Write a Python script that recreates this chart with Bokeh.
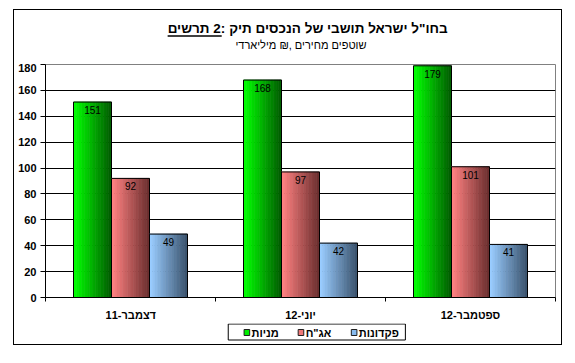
from bokeh.plotting import figure
from bokeh.layouts import column
from bokeh.models import Range1d, FixedTicker
from bokeh.embed import file_html
from bokeh.resources import INLINE
from bokeh.core.properties import value

# ---------------- data ----------------
categories = ["דצמבר-11", "יוני-12", "ספטמבר-12"]
series_names = ["מניות", 'אג"ח', "פקדונות"]
stocks = [151, 168, 179]
bonds = [92, 97, 101]
deposits = [49, 42, 41]
y_ticks = [0, 20, 40, 60, 80, 100, 120, 140, 160, 180]

title_lead = "תרשים 2:"
title_rest = 'תיק הנכסים של תושבי ישראל בחו"ל'
subtitle = "מיליארדי ₪, מחירים שוטפים"

# ---------------- styles ----------------
FONT = "Liberation Sans"
series_colors = [("#00ff00", "#006000"), ("#ff8080", "#6e3030"), ("#99ccff", "#3c5570")]
legend_colors = ["#00ee00", "#ee7777", "#88bbee"]
LRM = "\u200e"
W = 547


def ltr_words(s):
    return (LRM + " ").join(s.split(" "))


def mix(c0, c1, t):
    a = [int(c0[i:i + 2], 16) for i in (1, 3, 5)]
    b = [int(c1[i:i + 2], 16) for i in (1, 3, 5)]
    return "#%02x%02x%02x" % tuple(round(a[k] + (b[k] - a[k]) * t) for k in range(3))


def blank_panel(h):
    f = figure(width=W, height=h, x_range=Range1d(0, W), y_range=Range1d(0, h),
               output_backend="svg", toolbar_location=None,
               x_axis_location=None, y_axis_location=None, min_border=0,
               background_fill_color="white", border_fill_color="white")
    f.outline_line_color = None
    f.grid.visible = False
    return f


# ---------------- title panel ----------------
TH = 53
top = blank_panel(TH)
top.text(x=[131], y=[35], text=[ltr_words(title_lead)], text_align="left",
         text_baseline="middle", text_font=value(FONT), text_font_style="bold",
         text_font_size="13.5px", text_color="black")
top.text(x=[197], y=[35], text=[ltr_words(title_rest)], text_align="left",
         text_baseline="middle", text_font=value(FONT), text_font_style="bold",
         text_font_size="13.5px", text_color="black")
top.segment(x0=[131], y0=[27.5], x1=[189], y1=[27.5], line_color="black", line_width=1.6)
top.text(x=[274], y=[19], text=[ltr_words(subtitle)], text_align="center",
         text_baseline="middle", text_font=value(FONT), text_font_style="normal",
         text_font_size="11px", text_color="black")

# ---------------- main chart ----------------
p = figure(width=W, height=260,
           x_range=Range1d(0, len(categories)), y_range=Range1d(0, 180),
           output_backend="svg", toolbar_location=None,
           min_border_left=31, min_border_right=6, min_border_top=1, min_border_bottom=26,
           background_fill_color="white", border_fill_color="white")
p.outline_line_color = "#808080"
p.outline_line_width = 1

p.xgrid.visible = False
p.ygrid.ticker = FixedTicker(ticks=y_ticks[1:-1])
p.ygrid.grid_line_color = "black"
p.ygrid.grid_line_width = 1

yax = p.yaxis[0]
yax.ticker = FixedTicker(ticks=y_ticks)
yax.major_tick_out = 5
yax.major_tick_in = 0
yax.minor_tick_out = 0
yax.minor_tick_in = 0
yax.major_label_standoff = 4
yax.major_label_text_font = FONT
yax.major_label_text_font_style = "bold"
yax.major_label_text_font_size = "11px"
yax.major_label_text_color = "black"
yax.axis_line_color = "black"
yax.major_tick_line_color = "black"

centers = [i + 0.5 for i in range(len(categories))]
bounds = [float(i) for i in range(len(categories) + 1)]
xax = p.xaxis[0]
xax.ticker = FixedTicker(ticks=centers, minor_ticks=bounds)
xax.major_label_overrides = {c: lab for c, lab in zip(centers, categories)}
xax.major_tick_out = 0
xax.major_tick_in = 0
xax.minor_tick_out = 4
xax.minor_tick_in = 0
xax.minor_tick_line_color = "black"
xax.major_label_standoff = 7
xax.major_label_text_font = FONT
xax.major_label_text_font_style = "bold"
xax.major_label_text_font_size = "11px"
xax.major_label_text_color = "black"
xax.axis_line_color = "black"

bar_w = 0.2235
offsets = [-bar_w, 0.0, bar_w]
N = 14
series = [stocks, bonds, deposits]
for vals, (c0, c1), off in zip(series, series_colors, offsets):
    xs_c = [c + off for c in centers]
    for j in range(N):
        t = j / (N - 1)
        col = mix(c0, c1, t)
        xs = [x - bar_w / 2 + (j + 0.5) * bar_w / N for x in xs_c]
        p.vbar(x=xs, top=vals, bottom=0, width=bar_w / N,
               fill_color=col, line_color=col, line_width=0.7)
    p.vbar(x=xs_c, top=vals, bottom=0, width=bar_w,
           fill_alpha=0, line_color="black", line_width=1)
    p.text(x=xs_c, y=vals, text=[str(v) for v in vals],
           text_align="center", text_baseline="top", y_offset=4,
           text_font=value(FONT), text_font_size="10px", text_color="black")

# ---------------- legend panel ----------------
BH = 21
bot = blank_panel(BH)
bot.quad(left=[196], right=[386], bottom=[4.5], top=[20.5],
         fill_color="white", line_color="black", line_width=1)
key_left = [213, 271, 328]
key_size = 6
bot.quad(left=key_left, right=[k + key_size for k in key_left],
         bottom=[9] * 3, top=[9 + key_size] * 3,
         fill_color=legend_colors, line_color="#202020", line_width=1)
bot.text(x=[k + key_size + 2 for k in key_left], y=[12] * 3, text=series_names,
         text_align="left", text_baseline="middle", text_font=value(FONT),
         text_font_style="bold", text_font_size="11px", text_color="black")

layout = column(top, p, bot, spacing=0, margin=(9, 0, 0, 13),
                styles={"border": "1px solid black"})

open("out.html", "w").write(file_html(layout, INLINE))
